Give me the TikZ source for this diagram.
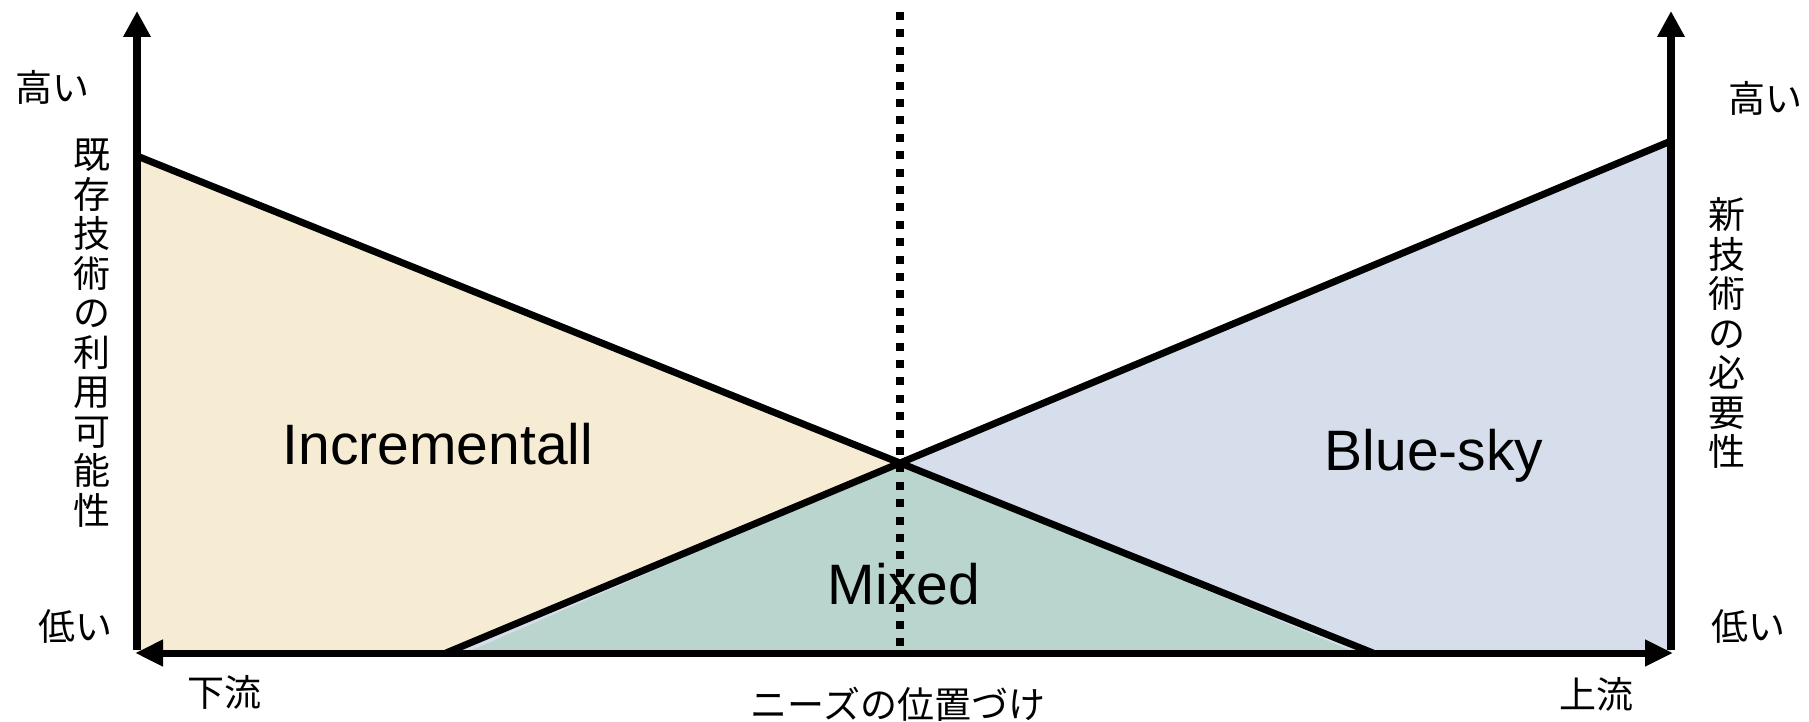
\documentclass[tikz,border=0pt]{standalone}
\usepackage{fontspec}
\setmainfont{Liberation Sans}
\newfontfamily\jp{Noto Sans CJK JP}
\usetikzlibrary{arrows.meta}
\definecolor{tanfill}{HTML}{F6ECD3}
\definecolor{bluefill}{HTML}{D5DEEA}
\definecolor{greenfill}{HTML}{B9D5CE}
\tikzset{
  axisline/.style={line width=8pt, -{Triangle[length=26pt,width=26pt]}},
  haxis/.style={line width=7pt, {Triangle[length=28pt,width=25pt]}-{Triangle[length=28pt,width=25pt]}},
  bound/.style={line width=7pt, line cap=butt, line join=miter},
  dotline/.style={line width=8pt, dash pattern=on 8pt off 9.4pt},
  jplab/.style={font=\jp\fontsize{37}{39.5}\selectfont, inner sep=0pt, align=center},
  biglab/.style={font=\fontsize{57}{60}\selectfont, inner sep=0pt, anchor=base}
}
\begin{document}
\begin{tikzpicture}[x=1pt,y=-1pt]
\useasboundingbox (0,0) rectangle (1809,722);
% key points
\coordinate (O) at (137,653);
\coordinate (R) at (1671,653);
\coordinate (LT) at (137,156);
\coordinate (RT) at (1671,141);
\coordinate (X) at (900,463);
\coordinate (LB) at (446,653);
\coordinate (RB) at (1373,653);
% fills
\fill[tanfill] (LT) -- (X) -- (LB) -- (O) -- cycle;
\fill[bluefill] (RT) -- (X) -- (LB) -- (R) -- cycle;
\fill[greenfill] (X) -- (470,651) -- (1352,651) -- cycle;
% boundary lines
\draw[bound] (LT) -- (X) -- (RB);
\draw[bound] (LB) -- (X) -- (RT);
% dotted center line
\coordinate (DT) at (900,12);
\coordinate (DB) at (900,653);
\draw[dotline] (DT) -- (DB);
% axes
\coordinate (LTip) at (137,11);
\coordinate (RTip) at (1671,11);
\draw[axisline] ([yshift=3.5pt]O) -- (LTip);
\draw[axisline] ([yshift=3.5pt]R) -- (RTip);
\coordinate (HL) at (135,653);
\coordinate (HR) at (1673,653);
\draw[haxis] (HL) -- (HR);
% labels
\node[jplab] (hiL) at (52,87) {高い};
\node[jplab] (loL) at (75,626) {低い};
\node[jplab] (vL) at (92,333) {既\\存\\技\\術\\の\\利\\用\\可\\能\\性};
\node[jplab] (hiR) at (1765,98) {高い};
\node[jplab] (loR) at (1748,626) {低い};
\node[jplab] (vR) at (1727,333) {新\\技\\術\\の\\必\\要\\性};
\node[jplab] (down) at (224,692) {下流};
\node[jplab] (need) at (898,704) {ニーズの位置づけ};
\node[jplab] (up) at (1596,694) {上流};
\node[biglab] (inc) at (438,464) {Incrementall};
\node[biglab] (blue) at (1434,470) {Blue-sky};
\node[biglab] (mix) at (904,604) {Mixed};
\end{tikzpicture}
\end{document}
